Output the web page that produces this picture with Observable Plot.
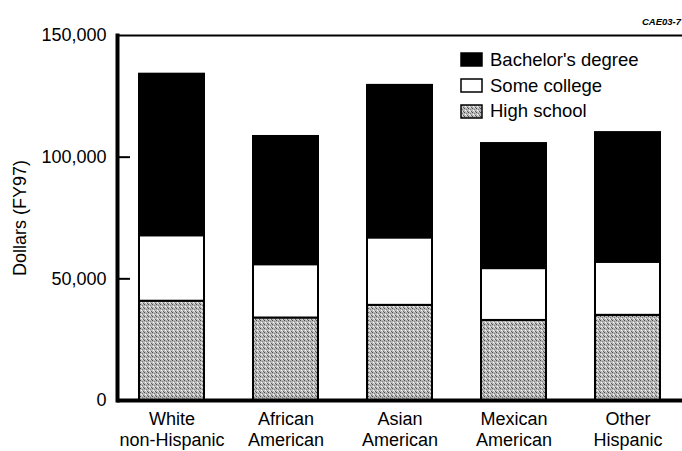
<!DOCTYPE html>
<html><head><meta charset="utf-8">
<script src="https://cdn.jsdelivr.net/npm/d3@7"></script>
<script src="https://cdn.jsdelivr.net/npm/@observablehq/plot@0.6"></script>
<style>
body{margin:0;background:#fff;font-family:"Liberation Sans",Arial,Helvetica,sans-serif;}
#wrap{position:relative;width:682px;height:451px;overflow:hidden;}
#code{position:absolute;right:1px;top:16px;font-size:9.5px;font-weight:bold;font-style:italic;color:#000;}
#legend{position:absolute;left:460px;top:47px;font-size:18.5px;color:#000;}
.row{display:flex;align-items:center;height:25.7px;}
.row svg{margin-right:7px;display:block;}
</style></head><body>
<div id="wrap"><div id="chart"></div><div id="code">CAE03-7</div><div id="legend"></div></div>
<script>
const categories = ["White\nnon-Hispanic", "African\nAmerican", "Asian\nAmerican", "Mexican\nAmerican", "Other\nHispanic"];
const levels = ["High school", "Some college", "Bachelor's degree"];
const legendOrder = ["Bachelor's degree", "Some college", "High school"];
const highSchool = [40800, 33900, 39100, 32900, 35000];
const someCollege = [26900, 21900, 27700, 21300, 21800];
const bachelors = [66400, 52700, 62700, 51400, 53300];
const yTicks = [0, 50000, 100000, 150000];
const yLabel = "Dollars (FY97)";
const sourceCode = "CAE03-7";

const fills = {"High school": "url(#hs)", "Some college": "#fff", "Bachelor's degree": "#000"};
const series = {"High school": highSchool, "Some college": someCollege, "Bachelor's degree": bachelors};
const rows = categories.flatMap((c, i) => levels.map(l => ({category: c, level: l, value: series[l][i]})));

const chart = Plot.plot({
  width: 682, height: 451,
  marginLeft: 117, marginRight: 0, marginTop: 35, marginBottom: 51,
  style: {fontFamily: "Liberation Sans, Arial, sans-serif", fontSize: "18px", color: "#000", background: "#fff"},
  x: {domain: categories, paddingInner: 0.426, paddingOuter: 0.18, label: null},
  y: {domain: [0, 150000], label: null},
  color: {domain: levels, range: levels.map(l => fills[l])},
  marks: [
    Plot.barY(rows, {x: "category", y: "value", fill: "level", order: levels, stroke: "#000", strokeWidth: 2}),
    Plot.ruleY([150000], {stroke: "#000", strokeWidth: 2}),
    Plot.ruleY([0], {stroke: "#000", strokeWidth: 4}),
    Plot.frame({anchor: "left", stroke: "#000", strokeWidth: 4}),
    Plot.axisY({ticks: [50000, 100000], tickSize: 13, dx: 13, strokeWidth: 2, text: null, label: null}),
    Plot.axisY({ticks: yTicks, tickSize: 0, tickPadding: 11, tickFormat: d3.format(","), label: yLabel, labelArrow: "none", labelAnchor: "center", labelOffset: 104, fontSize: 18}),
    Plot.axisX({tickSize: 0, tickPadding: 9, lineHeight: 1.18, label: null, fontSize: 18})
  ]
});
const defs = d3.select(chart).insert("defs", ":first-child");
const pat = defs.append("pattern").attr("id", "hs").attr("width", 4).attr("height", 4).attr("patternUnits", "userSpaceOnUse");
pat.append("rect").attr("width", 4).attr("height", 4).attr("fill", "#b8b8b8");
[[0,0,"#4a4a4a"],[2,1,"#808080"],[1,2,"#ffffff"],[3,3,"#606060"],[2,3,"#e4e4e4"]].forEach(([x,y,c]) =>
  pat.append("rect").attr("x", x).attr("y", y).attr("width", 1).attr("height", 1).attr("fill", c));
document.getElementById("chart").appendChild(chart);
document.getElementById("code").textContent = sourceCode;

const legend = d3.select("#legend");
legendOrder.forEach(l => {
  const row = legend.append("div").attr("class", "row");
  const s = row.append("svg").attr("width", 23).attr("height", 15);
  s.append("rect").attr("x", 1).attr("y", 1).attr("width", 21).attr("height", 13).attr("fill", fills[l]).attr("stroke", "#000").attr("stroke-width", 1.5);
  row.append("span").text(l);
});
</script>
</body></html>
